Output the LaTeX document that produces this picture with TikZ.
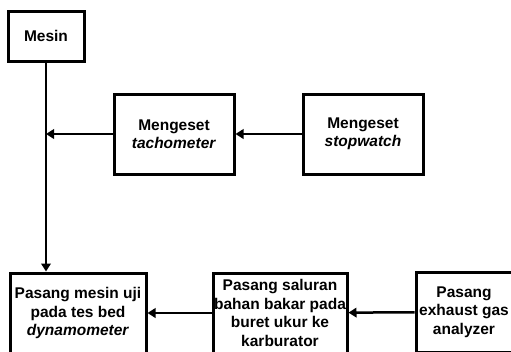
\documentclass[tikz,border=0pt]{standalone}
\usepackage{fontspec}
\setmainfont{Liberation Sans}
\usetikzlibrary{arrows.meta, positioning}

\begin{document}
\begin{tikzpicture}[
  x=1pt, y=-1pt,
  every node/.style={font=\fontsize{15.5}{18.5}\selectfont\bfseries, align=center},
  box/.style={rectangle, draw, line width=3pt, inner sep=1pt, minimum height=80pt},
  link/.style={line width=2.5pt, -{Triangle[length=8pt, width=9.5pt]}}
]
\clip (0,0) rectangle (511,351);

% Top row
\node[box, minimum width=76pt, minimum height=50pt] (mesin) at (46,36) {Mesin};
\node[box, minimum width=120pt] (tacho) at (174,134) {Mengeset\\\textit{tachometer}};
\node[box, minimum width=120pt] (stopw) at (363,134) {Mengeset\\\textit{stopwatch}};

% Bottom row
\node[box, minimum width=136pt] (uji) at (78,313) {Pasang mesin uji\\pada tes bed\\\textit{dynamometer}};
\node[box, minimum width=134pt] (saluran) at (280,313) {Pasang saluran\\bahan bakar pada\\buret ukur ke\\karburator};
\node[box, minimum width=96pt] (exhaust) at (464,312) {Pasang\\exhaust gas\\analyzer};

% Connectors
\draw[link] (mesin) -- (mesin |- uji.north);
\draw[link] (tacho) -- (tacho -| mesin);
\draw[link] (stopw) -- (tacho);
\draw[link] (exhaust) -- (saluran);
\draw[link] (saluran) -- (uji);

\end{tikzpicture}
\end{document}
